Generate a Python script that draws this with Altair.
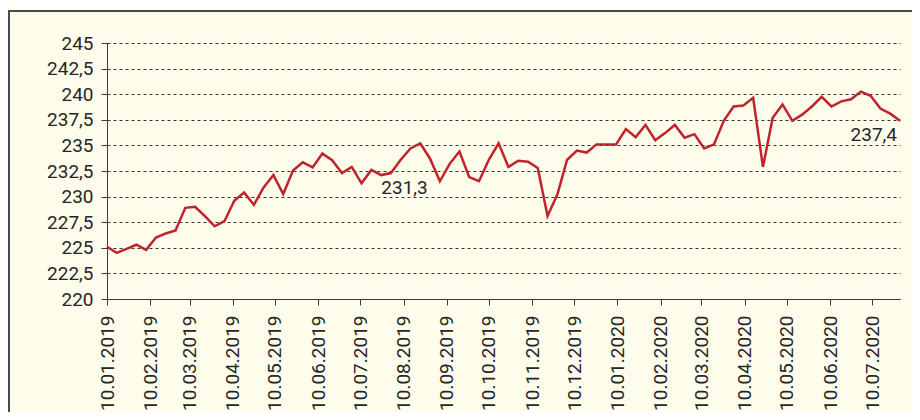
import altair as alt
import pandas as pd

# weekly values, starting 10.01.2019
start_date = "2019-01-10"
values = [
    225.1, 224.5, 224.9, 225.3, 224.8, 226.0, 226.4, 226.7, 228.9, 229.0,
    228.1, 227.1, 227.6, 229.6, 230.4, 229.2, 230.9, 232.1, 230.25, 232.55,
    233.35, 232.85, 234.2, 233.55, 232.3, 232.9, 231.3, 232.6, 232.1, 232.3,
    233.6, 234.7, 235.2, 233.7, 231.5, 233.2, 234.4, 231.9, 231.5, 233.6,
    235.2, 232.9, 233.5, 233.4, 232.8, 228.1, 230.2, 233.6, 234.5, 234.3,
    235.1, 235.1, 235.1, 236.6, 235.8, 237.0, 235.5, 236.2, 237.0, 235.75,
    236.1, 234.7, 235.1, 237.4, 238.8, 238.9, 239.65, 232.9, 237.7, 239.0,
    237.4, 238.0, 238.8, 239.75, 238.8, 239.3, 239.5, 240.25, 239.85, 238.6,
    238.1, 237.4,
]
y_ticks = [220, 222.5, 225, 227.5, 230, 232.5, 235, 237.5, 240, 242.5, 245]
x_tick_dates = [
    "2019-01-10", "2019-02-10", "2019-03-10", "2019-04-10", "2019-05-10",
    "2019-06-10", "2019-07-10", "2019-08-10", "2019-09-10", "2019-10-10",
    "2019-11-10", "2019-12-10", "2020-01-10", "2020-02-10", "2020-03-10",
    "2020-04-10", "2020-05-10", "2020-06-10", "2020-07-10",
]
ann_labels = ["231,3", "237,4"]
ann_index = [26, 81]

dates = pd.date_range(start_date, periods=len(values), freq="7D")
df = pd.DataFrame({"date": dates.strftime("%Y-%m-%d"), "value": values})
x_ticks_ms = [int(pd.Timestamp(d, tz="UTC").value // 10**6) for d in x_tick_dates]
x_dom = [int(pd.Timestamp(dates[0], tz="UTC").value // 10**6),
         int(pd.Timestamp(dates[-1], tz="UTC").value // 10**6)]

FONT = "Roboto"
TXT = "#262626"
AX = "#3a3a3a"
FS = 19

x_enc = alt.X(
    "date:T",
    scale=alt.Scale(type="utc", domain=x_dom, nice=False),
    axis=alt.Axis(
        values=x_ticks_ms,
        labelExpr="utcFormat(datum.value, '%d.%m.%Y')",
        labelAngle=-90, grid=False, tickSize=6, labelPadding=10,
        domainColor=AX, tickColor=AX, labelColor=TXT, labelFont=FONT,
        labelFontSize=FS, labelOverlap=False, title=None,
    ),
)
y_enc = alt.Y(
    "value:Q",
    scale=alt.Scale(domain=[220, 245], nice=False, zero=False),
    axis=alt.Axis(
        values=y_ticks,
        labelExpr="replace(format(datum.value, '.1~f'), '.', ',')",
        grid=True, gridDash=[3, 3], gridColor="#333333", gridWidth=1,
        tickSize=6, labelPadding=8, domainColor=AX, tickColor=AX,
        labelColor=TXT, labelFont=FONT, labelFontSize=FS, labelOverlap=False,
        labelSeparation=0, title=None,
    ),
)

base = alt.Chart(df)
line = base.mark_line(color="#c1232b", strokeWidth=2.5)

ann = pd.DataFrame({
    "date": [df["date"][i] for i in ann_index],
    "value": [values[i] for i in ann_index],
    "label": ann_labels,
})
t1 = alt.Chart(ann.iloc[[0]]).mark_text(
    font=FONT, fontSize=FS, color=TXT, align="center", baseline="middle", dx=43, dy=5
).encode(text="label:N")
t2 = alt.Chart(ann.iloc[[1]]).mark_text(
    font=FONT, fontSize=FS, color=TXT, align="right", baseline="middle", dx=-3, dy=14
).encode(text="label:N")

frame = alt.Chart(alt.Data(values=[{}])).mark_rect(
    fill=None, stroke="#4a4a4a", strokeWidth=2
).encode(
    x=alt.value(-98), x2=alt.value(1000), y=alt.value(-32), y2=alt.value(600)
)

chart = alt.layer(line, t1, t2, frame).encode(x=x_enc, y=y_enc).properties(
    width=793, height=256,
    autosize=alt.AutoSizeParams(type="none"),
    padding={"left": 99, "top": 35, "right": 12, "bottom": 113},
    background="#fefcea",
).configure_view(stroke=None)

chart.save("out.html", embed_options={"renderer": "svg", "actions": False})
